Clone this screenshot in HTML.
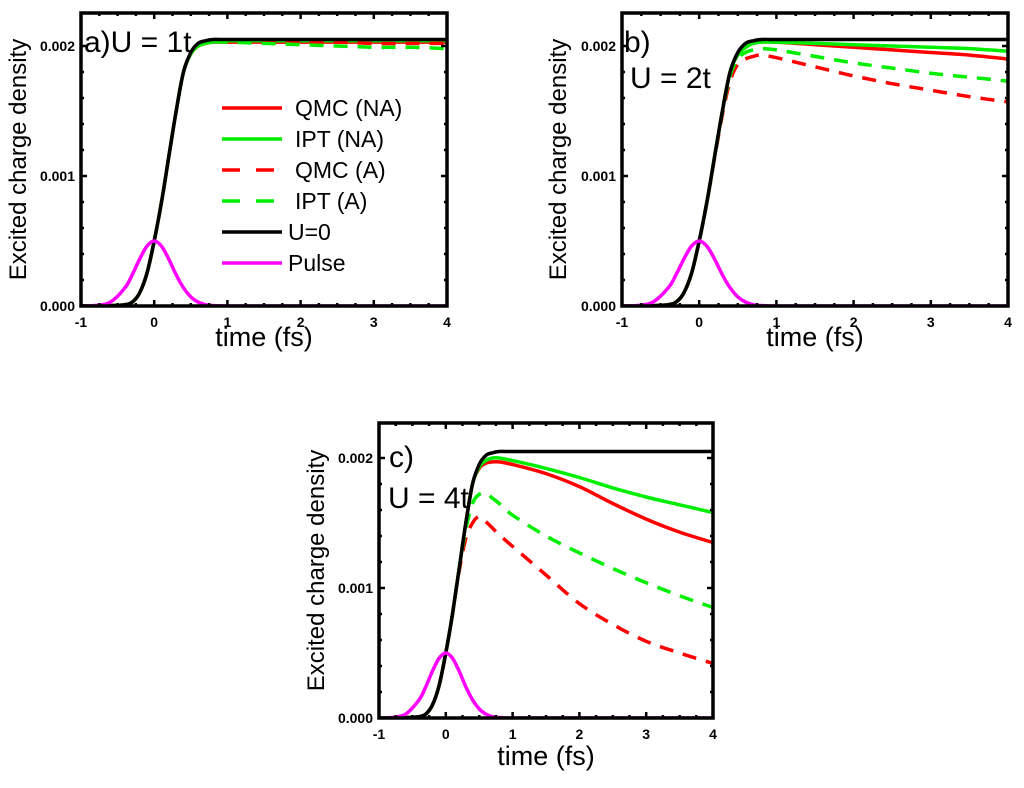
<!DOCTYPE html>
<html><head><meta charset="utf-8"><style>
body{margin:0;background:#fff;}
svg text{font-family:"Liberation Sans",Arial,sans-serif;}
</style></head><body>
<svg id="chart" width="1024" height="783" viewBox="0 0 1024 783" xmlns="http://www.w3.org/2000/svg"></svg>
<script>
const times=[-1,-0.8,-0.6,-0.4,-0.3,-0.2,-0.1,0,0.1,0.2,0.3,0.4,0.5,0.6,0.7,0.8,1,1.5,2,2.5,3,3.5,4];
const u0=[0,0,0.000002,0.00001,0.00003,0.0001,0.00025,0.0005,0.0008,0.00115,0.0015,0.0018,0.00195,0.00202,0.00204,0.00205,0.00205,0.00205,0.00205,0.00205,0.00205,0.00205,0.00205];
const pulse=[0,0.000004,0.00003,0.00014,0.00024,0.00036,0.00046,0.0005,0.00046,0.00036,0.00024,0.00014,0.00007,0.00003,0.00001,0.000004,0,0,0,0,0,0,0];
const aQmcNA=[0,0,0.000002,0.00001,0.00003,0.0001,0.00025,0.0005,0.0008,0.00115,0.0015,0.0018,0.00194,0.002,0.00202,0.00203,0.00203,0.00203,0.00203,0.00203,0.00203,0.00203,0.00203];
const aIptNA=[0,0,0.000002,0.00001,0.00003,0.0001,0.00025,0.0005,0.0008,0.00115,0.0015,0.0018,0.00194,0.002,0.00202,0.00203,0.00204,0.00204,0.00204,0.00204,0.00204,0.00204,0.00204];
const aQmcA=[0,0,0.000002,0.00001,0.00003,0.0001,0.00025,0.0005,0.0008,0.00115,0.0015,0.0018,0.00194,0.002,0.00202,0.00203,0.00203,0.00203,0.00203,0.00203,0.00202,0.00202,0.00202];
const aIptA=[0,0,0.000002,0.00001,0.00003,0.0001,0.00025,0.0005,0.0008,0.00115,0.0015,0.0018,0.00194,0.002,0.00202,0.00203,0.00203,0.00202,0.00201,0.002,0.00199,0.00199,0.00198];
const bQmcNA=[0,0,0.000002,0.00001,0.00003,0.0001,0.00025,0.0005,0.0008,0.00115,0.0015,0.0018,0.00193,0.00199,0.00202,0.00203,0.00203,0.00201,0.00199,0.00197,0.00195,0.00193,0.0019];
const bIptNA=[0,0,0.000002,0.00001,0.00003,0.0001,0.00025,0.0005,0.0008,0.00115,0.0015,0.0018,0.00193,0.00199,0.00202,0.00203,0.00203,0.00202,0.00201,0.002,0.00199,0.00198,0.00196];
const bQmcA=[0,0,0.000002,0.00001,0.00003,0.0001,0.00025,0.0005,0.0008,0.00114,0.00147,0.00173,0.00186,0.0019,0.00192,0.00193,0.00191,0.00184,0.00177,0.00171,0.00166,0.00161,0.00157];
const bIptA=[0,0,0.000002,0.00001,0.00003,0.0001,0.00025,0.0005,0.0008,0.00115,0.00149,0.00177,0.0019,0.00195,0.00197,0.00198,0.00197,0.00192,0.00187,0.00183,0.00179,0.00176,0.00173];
const cQmcNA=[0,0,0.000002,0.00001,0.00003,0.0001,0.00025,0.0005,0.0008,0.00115,0.0015,0.0018,0.00192,0.00196,0.00197,0.00197,0.00195,0.00188,0.00178,0.00165,0.00153,0.00143,0.00135];
const cIptNA=[0,0,0.000002,0.00001,0.00003,0.0001,0.00025,0.0005,0.0008,0.00115,0.0015,0.0018,0.00193,0.00198,0.002,0.002,0.00198,0.00192,0.00185,0.00177,0.0017,0.00164,0.00158];
const cQmcA=[0,0,0.000002,0.00001,0.00003,0.0001,0.00025,0.0005,0.0008,0.00113,0.00138,0.0015,0.00155,0.00151,0.00146,0.00141,0.00132,0.0011,0.00088,0.00072,0.00059,0.0005,0.00042];
const cIptA=[0,0,0.000002,0.00001,0.00003,0.0001,0.00025,0.0005,0.0008,0.00115,0.00145,0.00165,0.00172,0.00173,0.00169,0.00165,0.00156,0.0014,0.00127,0.00115,0.00104,0.00094,0.00085];
const xTicks=[-1,0,1,2,3,4];
const yTicks=[0,0.001,0.002];
const yTickLabels=["0.000","0.001","0.002"];
const legendLabels=["QMC (NA)"," IPT (NA)","QMC (A)","IPT (A)","U=0","Pulse"];

const NS="http://www.w3.org/2000/svg";
const svg=document.getElementById('chart');
function mk(tag,attrs,parent){const e=document.createElementNS(NS,tag);for(const k in attrs)e.setAttribute(k,attrs[k]);(parent||svg).appendChild(e);return e;}
function smooth(pts){let d="M"+pts[0][0].toFixed(1)+","+pts[0][1].toFixed(1);
 for(let i=0;i<pts.length-1;i++){const p0=pts[Math.max(0,i-1)],p1=pts[i],p2=pts[i+1],p3=pts[Math.min(pts.length-1,i+2)];
  const c1=[p1[0]+(p2[0]-p0[0])/6,p1[1]+(p2[1]-p0[1])/6],c2=[p2[0]-(p3[0]-p1[0])/6,p2[1]-(p3[1]-p1[1])/6];
  d+=" C"+c1[0].toFixed(1)+","+c1[1].toFixed(1)+" "+c2[0].toFixed(1)+","+c2[1].toFixed(1)+" "+p2[0].toFixed(1)+","+p2[1].toFixed(1);}
 return d;}
const styles=[{c:"#ff0000",dash:null},{c:"#00ee00",dash:null},{c:"#ff0000",dash:"14,10"},{c:"#00ee00",dash:"14,10"},{c:"#000000",dash:null},{c:"#ff00ff",dash:null}];

function panel(id,L,R,T,B,series,labels,ytx,xty,legend){
 const g=mk('g',{});
 
 
 const y0=B, ppu=130/0.001;
 const X=t=>L+(t+1)/5*(R-L);
 const Y=v=>y0-v*ppu;
 const clip=mk('clipPath',{id:'clip'+id},g);mk('rect',{x:L,y:T,width:R-L,height:B-T},clip);
 [0,1,2,3,4,5].forEach(i=>{const s=series[i];const pts=times.map((t,j)=>[X(t),Y(s[j])]);
  const p=mk('path',{d:smooth(pts),fill:'none',stroke:styles[i].c,'stroke-width':3.5,'clip-path':'url(#clip'+id+')'},g);
  if(styles[i].dash)p.setAttribute('stroke-dasharray',styles[i].dash);
  
  });
 for(let t=-1;t<=4.001;t+=0.25){const major=Math.abs(t-Math.round(t))<0.01;const len=major?6:3;
  mk('line',{x1:X(t),x2:X(t),y1:B,y2:B-len,stroke:'#000','stroke-width':2.5},g);
  mk('line',{x1:X(t),x2:X(t),y1:T,y2:T+len,stroke:'#000','stroke-width':2.5},g);}
 for(let v=0;v<=0.0022;v+=0.0002){const major=Math.abs(v/0.001-Math.round(v/0.001))<0.01;const len=major?6:3;
  mk('line',{x1:L,x2:L+len,y1:Y(v),y2:Y(v),stroke:'#000','stroke-width':2.5},g);
  mk('line',{x1:R,x2:R-len,y1:Y(v),y2:Y(v),stroke:'#000','stroke-width':2.5},g);}
 const fr=mk('rect',{x:L,y:T,width:R-L,height:B-T,fill:'none',stroke:'#000','stroke-width':3.5},g);
 
 xTicks.forEach(t=>{const e=mk('text',{x:X(t),y:B+21,'text-anchor':'middle','font-size':14,'font-weight':'bold'},g);e.textContent=t;
  });
 yTicks.forEach((v,i)=>{const e=mk('text',{x:L-6,y:Y(v)+5,'text-anchor':'end','font-size':14,'font-weight':'bold'},g);e.textContent=yTickLabels[i];
  });
 const xt=mk('text',{x:(L+R)/2,y:xty,'text-anchor':'middle','font-size':27},g);xt.textContent='time (fs)';
 
 const yt=mk('text',{x:0,y:0,'text-anchor':'middle','font-size':24,transform:`translate(${ytx},${(T+B)/2}) rotate(-90)`},g);yt.textContent='Excited charge density';
 
 labels.forEach(l=>{const e=mk('text',{x:l[0],y:l[1],'font-size':30},g);e.textContent=l[2];
  });
 if(legend){const lg=mk('g',{},g);
  legendLabels.forEach((s,i)=>{const yy=108+i*31;
   const ln=mk('line',{x1:222,x2:282,y1:yy,y2:yy,stroke:styles[i].c,'stroke-width':3.5},lg);
   if(styles[i].dash)ln.setAttribute('stroke-dasharray','18,16');
   const tx=mk('text',{x:i<4?295:288,y:yy+8,'font-size':23},lg);tx.textContent=s;
   });}
}
panel('a',81,447,13,306,[aQmcNA,aIptNA,aQmcA,aIptA,u0,pulse],[[84,52,'a)U = 1t']],26,346,true);
panel('b',622,1008,13,306,[bQmcNA,bIptNA,bQmcA,bIptA,u0,pulse],[[624,52,'b)'],[630,88,'U = 2t']],566,346,false);
panel('c',379,713,423,718,[cQmcNA,cIptNA,cQmcA,cIptA,u0,pulse],[[389,467,'c)'],[388,508,'U = 4t']],324,765,false);
</script>
</body></html>
